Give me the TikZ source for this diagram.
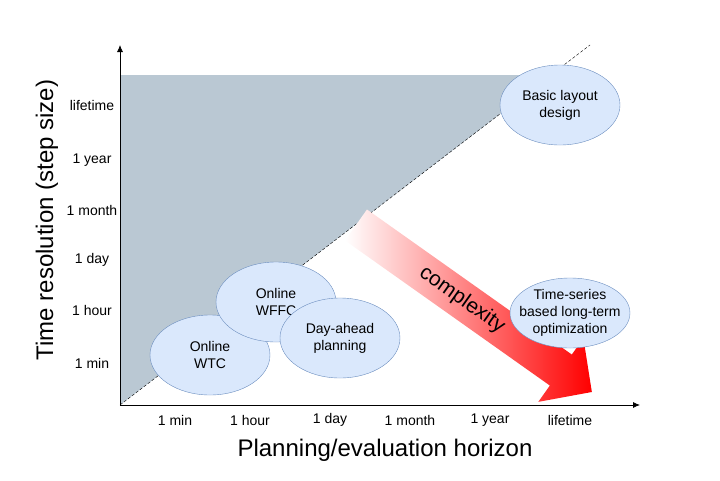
\documentclass[tikz,border=0pt]{standalone}
\usepackage{fontspec}
\setmainfont{Liberation Sans}
\usetikzlibrary{arrows.meta, positioning, shapes.geometric, calc}
\definecolor{areagray}{HTML}{BAC8D3}
\definecolor{bubblefill}{HTML}{DAE8FC}
\definecolor{bubbleline}{HTML}{6C8EBF}

\begin{document}
\begin{tikzpicture}[x=1pt, y=-1pt, every node/.style={font=\fontsize{14}{17}\selectfont, align=center},
    bubble/.style={draw=bubbleline, fill=bubblefill},
    axis/.style={-{Latex[length=7pt, width=6pt]}, thick}]
    \useasboundingbox (0,0) rectangle (720,480);

    \coordinate (origin) at (120,405);
    \coordinate (ytop) at (120,45);
    \coordinate (xend) at (640,405);
    \coordinate (diagend) at (590,45);

    % region above the diagonal
    \fill[areagray] (origin) -- (120,75) -- (551,75) -- cycle;
    \draw[dash pattern=on 3pt off 2pt] (origin) -- (diagend);

    % complexity arrow
    \begin{scope}[shift={(356,225)}, rotate=-35.3]
        \shade[left color=white, right color=red] (0,-19) -- (251,-19) -- (251,-39) -- (289,0)
            -- (251,39) -- (251,19) -- (0,19) -- cycle;
    \end{scope}
    \node[rotate=-35.3, font=\fontsize{21}{25}\selectfont] (cplx) at (462,300) {complexity};

    % planning tasks
    \draw[bubble] (210,355) ellipse [x radius=60, y radius=40];
    \node (wtc) at (210,355) {Online\\WTC};
    \draw[bubble] (276,302) ellipse [x radius=60, y radius=40];
    \node (wffc) at (276,302) {Online\\WFFC};
    \draw[bubble] (340,338) ellipse [x radius=60, y radius=40];
    \node (dayahead) at (340,338) {Day-ahead\\planning};
    \draw[bubble] (560,105) ellipse [x radius=60, y radius=40];
    \node (layout) at (560,105) {Basic layout\\design};
    \draw[bubble] (570,313) ellipse [x radius=60, y radius=35];
    \node (longterm) at (570,313) {Time-series\\based long-term\\optimization};

    % axes
    \draw[axis] (origin) -- (ytop);
    \draw[axis] (origin) -- (xend);

    \node (y1) at (92,105) {lifetime};
    \node (y2) at (92,160) {1 year};
    \node (y3) at (92,210) {1 month};
    \node (y4) at (92,260) {1 day};
    \node (y5) at (92,310) {1 hour};
    \node (y6) at (92,363) {1 min};

    \node (x1) at (175,420) {1 min};
    \node (x2) at (250,420) {1 hour};
    \node (x3) at (330,420) {1 day};
    \node (x4) at (410,420) {1 month};
    \node (x5) at (490,420) {1 year};
    \node (x6) at (570,420) {lifetime};

    \node[rotate=90, font=\fontsize{24}{28}\selectfont] (ytitle) at (47,220) {Time resolution (step size)};
    \node[font=\fontsize{24}{28}\selectfont] (xtitle) at (385,450) {Planning/evaluation horizon};
\end{tikzpicture}
\end{document}
